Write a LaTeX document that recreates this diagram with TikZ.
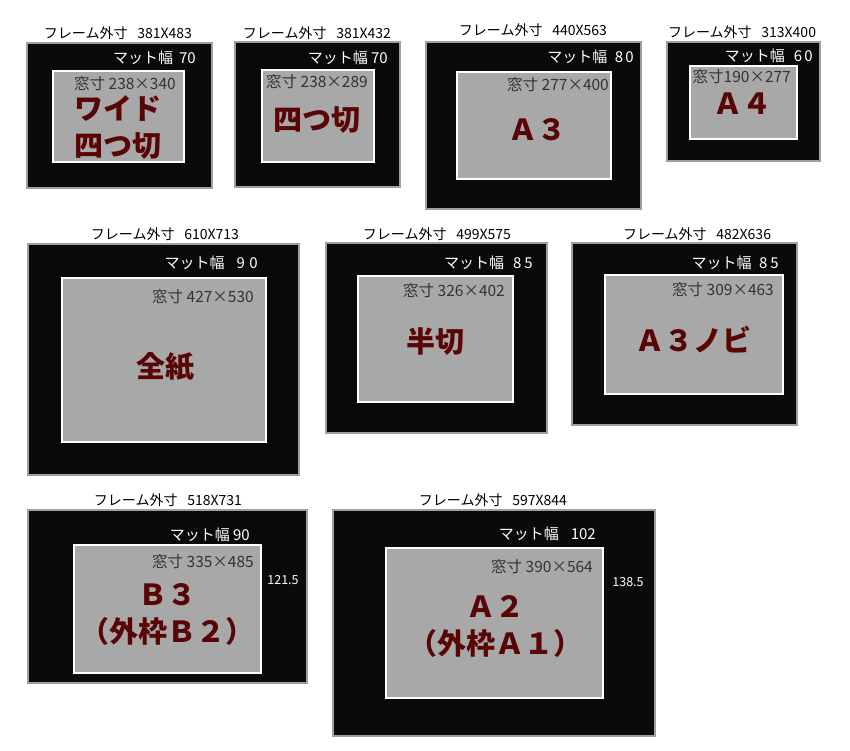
\documentclass[tikz,border=0pt]{standalone}
\usepackage{fontspec}
\setmainfont{Noto Sans CJK JP}

\definecolor{matblack}{HTML}{0A0A0A}
\definecolor{wingray}{HTML}{A8A8A8}
\definecolor{namered}{HTML}{5A0505}
\definecolor{wintext}{HTML}{333333}

\tikzset{
  matframe/.style={fill=matblack, draw=gray!75, line width=1.2pt},
  winbox/.style={fill=wingray, draw=white, line width=2pt},
  outerlbl/.style={inner sep=0pt, font=\fontsize{14}{16}\selectfont},
  matlbl/.style={inner sep=0pt, anchor=east, text=white, font=\fontsize{15}{17}\selectfont},
  winlbl/.style={inner sep=0pt, anchor=east, text=wintext, font=\fontsize{15.5}{17}\selectfont},
  sidelbl/.style={inner sep=0pt, text=white, font=\fontsize{12.5}{14}\selectfont},
  papername/.style={inner sep=0pt, align=center, text=namered, font=\fontsize{29}{37}\selectfont\bfseries}
}

\begin{document}
\begin{tikzpicture}[x=1pt, y=-1pt]
\useasboundingbox (0,0) rectangle (850,750);

%% Row 1
% ワイド四つ切
\node[outerlbl] (t1) at (118,33) {フレーム外寸\hspace{0.7em}381X483};
\draw[matframe] (27,43) rectangle (212,188);
\draw[winbox] (53,71) rectangle (184,162);
\node[matlbl] (m1) at (196,58) {マット幅\hspace{0.4em}70};
\node[winlbl] (w1) at (176,84) {窓寸 238×340};
\node[papername] (n1) at (118,127) {ワイド\\四つ切};

% 四つ切
\node[outerlbl] (t2) at (317,33) {フレーム外寸\hspace{0.7em}381X432};
\draw[matframe] (235,42) rectangle (400,187);
\draw[winbox] (262,70) rectangle (374,162);
\node[matlbl] (m2) at (388,58) {マット幅 70};
\node[winlbl] (w2) at (368,82) {窓寸 238×289};
\node[papername] (n2) at (317,120) {四つ切};

% A3
\node[outerlbl] (t3) at (533,30) {フレーム外寸\hspace{0.7em}440X563};
\draw[matframe] (426,42) rectangle (641,209);
\draw[winbox] (457,72) rectangle (611,179);
\node[matlbl] (m3) at (634,57) {マット幅\hspace{0.5em}8\hspace{0.15em}0};
\node[winlbl] (w3) at (609,85) {窓寸 277×400};
\node[papername] (n3) at (537,130) {Ａ３};

% A4
\node[outerlbl] (t4) at (742,32) {フレーム外寸\hspace{0.7em}313X400};
\draw[matframe] (667,42) rectangle (820,161);
\draw[winbox] (690,66) rectangle (797,139);
\node[matlbl] (m4) at (813,56) {マット幅\hspace{0.6em}6\hspace{0.15em}0};
\node[winlbl] (w4) at (791,77) {窓寸190×277};
\node[papername] (n4) at (742,104) {Ａ４};

%% Row 2
% 全紙
\node[outerlbl] (t5) at (165,234) {フレーム外寸\hspace{0.7em}610X713};
\draw[matframe] (28,244) rectangle (299,475);
\draw[winbox] (62,278) rectangle (266,442);
\node[matlbl] (m5) at (258,263) {マット幅\hspace{0.8em}9\hspace{0.3em}0};
\node[winlbl] (w5) at (254,297) {窓寸 427×530};
\node[papername] (n5) at (165,367) {全紙};

% 半切
\node[outerlbl] (t6) at (437,234) {フレーム外寸\hspace{0.7em}499X575};
\draw[matframe] (326,243) rectangle (547,433);
\draw[winbox] (358,276) rectangle (513,402);
\node[matlbl] (m6) at (533,263) {マット幅\hspace{0.6em}8\hspace{0.2em}5};
\node[winlbl] (w6) at (505,291) {窓寸 326×402};
\node[papername] (n6) at (435,342) {半切};

% A3ノビ
\node[outerlbl] (t7) at (697,234) {フレーム外寸\hspace{0.7em}482X636};
\draw[matframe] (572,243) rectangle (797,425);
\draw[winbox] (605,275) rectangle (783,394);
\node[matlbl] (m7) at (779,263) {マット幅\hspace{0.5em}8\hspace{0.2em}5};
\node[winlbl] (w7) at (774,290) {窓寸 309×463};
\node[papername] (n7) at (693,340) {Ａ３ノビ};

%% Row 3
% B3
\node[outerlbl] (t8) at (168,500) {フレーム外寸\hspace{0.7em}518X731};
\draw[matframe] (28,510) rectangle (307,683);
\draw[winbox] (74,545) rectangle (261,673);
\node[matlbl] (m8) at (250,535) {マット幅 90};
\node[winlbl] (w8) at (254,562) {窓寸 335×485};
\node[sidelbl] (s8) at (283,580) {121.5};
\node[papername] (n8) at (167,614) {Ｂ３\\（外枠Ｂ２）};

% A2
\node[outerlbl] (t9) at (493,500) {フレーム外寸\hspace{0.7em}597X844};
\draw[matframe] (333,510) rectangle (655,736);
\draw[winbox] (386,548) rectangle (603,698);
\node[matlbl] (m9) at (596,534) {マット幅\hspace{0.8em}102};
\node[winlbl] (w9) at (593,567) {窓寸 390×564};
\node[sidelbl] (s9) at (628,582) {138.5};
\node[papername] (n9) at (495,626) {Ａ２\\（外枠Ａ１）};

\end{tikzpicture}
\end{document}
